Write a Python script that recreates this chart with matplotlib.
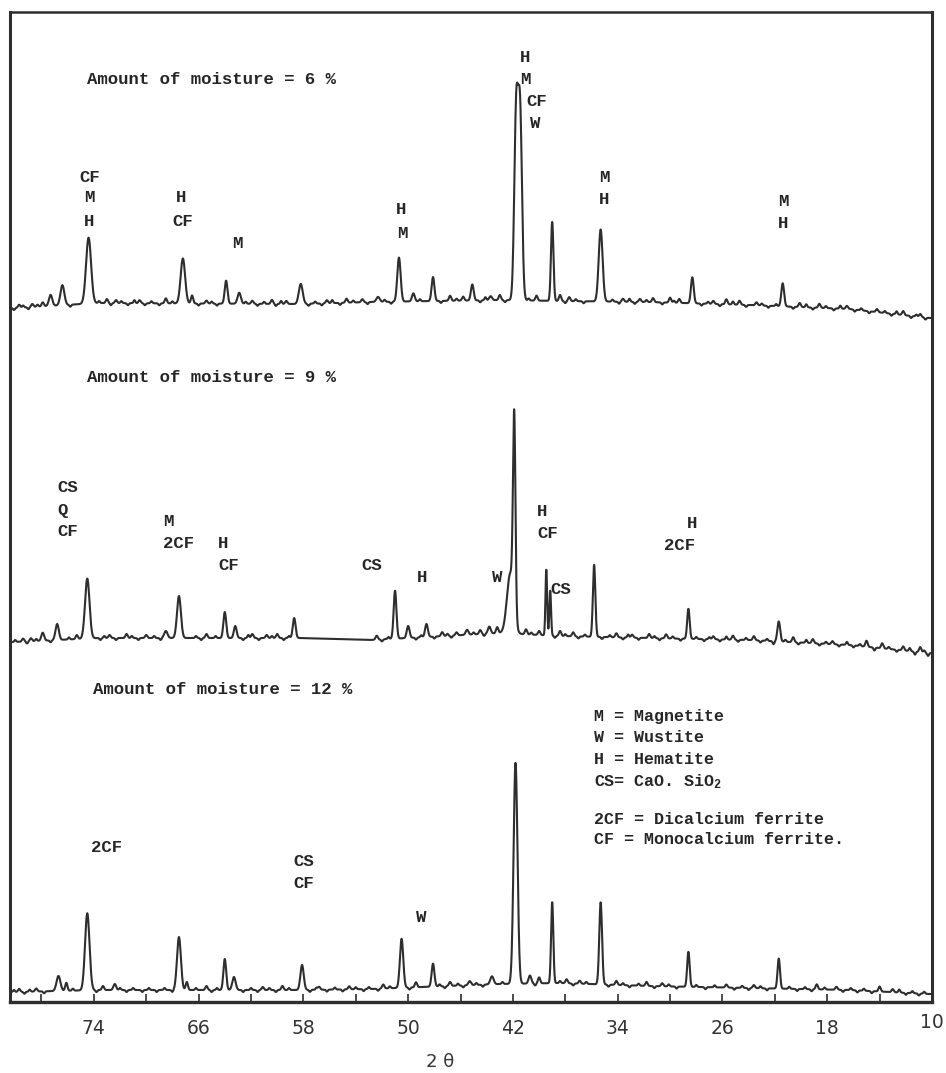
import numpy as np
import matplotlib
matplotlib.use("Agg")
import matplotlib.pyplot as plt
from matplotlib.transforms import ScaledTranslation

# ---------------------------------------------------------------------------
# Scan range (2-theta, degrees) and axis ticks
# ---------------------------------------------------------------------------
theta_max, theta_min = 80.4, 10.0
tick_positions = [78, 74, 70, 66, 62, 58, 54, 50, 46, 42, 38, 34, 30, 26, 22, 18, 14, 10]
tick_labels = ["", "74", "", "66", "", "58", "", "50", "", "42", "", "34", "", "26", "", "18", "", "10"]

# ---------------------------------------------------------------------------
# Moisture = 6 %
# ---------------------------------------------------------------------------
m6_bg_theta = [80.06, 73.6, 58.3, 52.9, 43.0, 38.4, 31.6, 23.9, 16.3, 10.2]
m6_bg_counts = [14, 19, 18, 20, 22, 21, 20, 17, 13, 4]
m6_peak_theta = [77.3, 76.4, 74.4, 67.2, 63.9, 62.9, 58.2, 52.3, 50.7, 49.6, 48.1, 45.1,
                 43.7, 41.75, 41.45, 39.0, 35.3, 28.3, 21.4]
m6_peak_counts = [11, 20, 66, 45, 23, 11, 20, 5, 44, 8, 24, 16, 4, 187, 183, 79, 72, 26, 23]
m6_peak_fwhm = [0.3, 0.35, 0.45, 0.4, 0.25, 0.3, 0.35, 0.3, 0.3, 0.25, 0.25, 0.25,
                0.25, 0.34, 0.34, 0.22, 0.35, 0.25, 0.25]
m6_minor_theta = [79.7, 78.7, 77.9, 73.0, 72.3, 70.5, 68.5, 66.5, 65.4, 61.9, 60.4, 59.3,
                  56.2, 54.7, 53.5, 46.8, 45.8, 43.0, 40.2, 38.4, 37.7, 33.6, 32.3, 31.3,
                  30.0, 29.3, 26.7, 25.7, 24.7, 23.4, 20.1, 18.6, 16.5, 14.2, 12.2, 10.9]
m6_minor_counts = [3, 3, 4, 4, 3, 3, 5, 8, 3, 3, 4, 3, 3, 4, 3, 5, 4, 5, 5, 6, 4, 3, 3, 4,
                   5, 4, 3, 5, 4, 3, 4, 4, 3, 3, 4, 3]
m6_ripple_theta = [80.1, 79.4, 79.0, 78.3, 75.8, 73.6, 72.7, 71.9, 71.4, 70.9, 70.1, 69.6,
                   69.0, 68.0, 66.0, 65.0, 64.6, 62.4, 61.5, 61.0, 60.1, 59.7, 57.6, 57.1,
                   56.6, 55.8, 55.2, 54.2, 53.1, 51.8, 51.3, 49.1, 47.5, 46.3, 44.5, 44.1,
                   42.6, 40.8, 38.0, 37.2, 36.6, 34.4, 33.9, 33.1, 32.7, 31.8, 30.6, 29.7,
                   27.6, 27.1, 26.2, 25.2, 24.2, 23.0, 22.5, 21.9, 20.6, 19.6, 19.1, 18.1,
                   17.5, 17.0, 15.9, 15.4, 14.8, 13.6, 13.1, 12.7, 11.6, 11.2, 10.5]
m6_ripple_counts = [-2, 2, -2, 2, -2, 2, -2, 2, -2, 3, -2, 2, -2, 2, -2, 2, -2, 2, -2, 2,
                    -2, 3, -2, 2, -2, 3, -2, 2, -2, 2, -2, 2, -2, 2, -2, 3, -2, 2, -2, 2,
                    -2, 2, -2, 3, -2, 2, -2, 2, -2, 2, -2, 3, -2, 2, -2, 2, -2, 3, -2, 2,
                    -2, 3, -2, 2, -2, 2, -2, 3, -2, 2, -2]

# ---------------------------------------------------------------------------
# Moisture = 9 %
# ---------------------------------------------------------------------------
m9_bg_theta = [80.06, 73.6, 58.3, 52.9, 43.0, 38.4, 31.6, 23.9, 16.3, 10.2]
m9_bg_counts = [20, 24, 24, 22, 29, 26, 24, 22, 17, 9]
m9_peak_theta = [77.9, 76.8, 74.5, 68.5, 67.5, 64.0, 63.2, 58.7, 51.0, 50.0, 48.6, 45.5,
                 43.8, 42.2, 41.9, 39.45, 39.15, 35.8, 28.6, 21.7]
m9_peak_counts = [8, 16, 60, 7, 42, 26, 12, 20, 48, 12, 13, 5, 7, 60, 194, 66, 45, 72, 30, 20]
m9_peak_fwhm = [0.25, 0.3, 0.4, 0.3, 0.35, 0.25, 0.25, 0.25, 0.25, 0.25, 0.25, 0.25,
                0.25, 0.6, 0.22, 0.15, 0.15, 0.22, 0.22, 0.25]
m9_minor_theta = [79.4, 78.8, 75.3, 72.8, 71.5, 70.0, 65.4, 61.9, 60.8, 60.0, 52.4, 47.4,
                  46.3, 44.5, 43.2, 41.0, 40.0, 38.4, 37.4, 34.1, 32.9, 31.6, 30.3, 26.7,
                  25.2, 23.6, 20.6, 19.1, 17.6, 15.0, 13.8, 12.2, 10.9]
m9_minor_counts = [3, 3, 4, 3, 4, 3, 4, 4, 3, 4, 4, 4, 3, 4, 6, 5, 4, 5, 4, 4, 3, 4, 4, 3,
                   4, 4, 5, 4, 3, 6, 5, 4, 5]
m9_ripple_theta = [80.0, 79.1, 78.4, 77.3, 75.9, 73.5, 73.2, 72.3, 71.1, 70.6, 69.4, 68.9,
                   66.2, 65.8, 64.7, 62.6, 62.2, 61.4, 60.4, 59.5, 59.1, 52.0, 51.5, 49.4,
                   49.0, 48.0, 47.0, 46.7, 45.0, 44.2, 40.6, 38.8, 38.0, 37.0, 36.5, 35.2,
                   34.6, 33.6, 33.2, 32.4, 31.2, 30.8, 29.8, 29.2, 28.0, 27.4, 27.0, 26.2,
                   25.7, 24.8, 24.2, 23.1, 22.6, 22.1, 21.2, 20.2, 19.6, 18.6, 18.1, 17.1,
                   16.5, 16.0, 15.5, 14.4, 13.3, 12.7, 11.7, 11.3, 10.6, 10.3]
m9_ripple_counts = [2, -2, 2, -2, 2, -2, 2, -2, 2, -2, 2, -2, 2, -2, 2, -2, 3, -2, 2, -2,
                    2, -2, 2, -2, 2, -2, 2, -2, 2, -2, 2, -2, 2, -2, 2, -2, 2, -2, 3, -2,
                    2, -2, 2, -2, 2, -2, 2, -2, 3, -2, 2, -2, 2, -3, 2, -2, 3, -2, 2, -2,
                    3, -2, 2, -3, 2, -2, 3, -3, 2, -3]

# ---------------------------------------------------------------------------
# Moisture = 12 %
# ---------------------------------------------------------------------------
m12_bg_theta = [80.06, 73.6, 58.3, 52.9, 43.0, 38.4, 31.6, 23.9, 16.3, 10.2]
m12_bg_counts = [10, 12, 12, 13, 18, 19, 16, 14, 12, 8]
m12_peak_theta = [76.7, 74.5, 72.4, 67.5, 64.0, 63.3, 58.1, 50.5, 48.1, 45.3, 43.6, 41.8,
                  40.7, 39.0, 35.3, 28.6, 21.7]
m12_peak_counts = [15, 77, 6, 53, 31, 13, 25, 49, 23, 4, 8, 221, 8, 81, 82, 35, 30]
m12_peak_fwhm = [0.35, 0.4, 0.25, 0.35, 0.25, 0.3, 0.3, 0.3, 0.25, 0.25, 0.3, 0.35,
                 0.25, 0.2, 0.25, 0.22, 0.22]
m12_minor_theta = [79.7, 78.4, 76.1, 73.3, 66.9, 65.4, 61.1, 59.6, 56.8, 54.5, 51.9, 49.4,
                   46.8, 40.0, 37.9, 36.9, 34.1, 31.8, 30.6, 25.7, 23.6, 18.8, 17.3, 14.0, 13.0]
m12_minor_counts = [3, 3, 8, 4, 8, 4, 3, 4, 3, 3, 4, 5, 4, 6, 4, 3, 4, 4, 3, 3, 3, 5, 3, 5, 3]
m12_ripple_theta = [80.1, 79.3, 78.9, 77.8, 75.6, 73.8, 72.0, 71.5, 71.0, 70.3, 69.8, 69.2,
                    68.6, 68.0, 66.2, 65.0, 64.6, 62.6, 62.0, 61.5, 60.6, 60.1, 59.1, 57.5,
                    57.0, 56.2, 55.6, 55.0, 54.0, 53.4, 53.0, 52.3, 51.4, 49.9, 47.6, 47.2,
                    46.2, 45.8, 44.8, 44.3, 42.8, 40.3, 38.4, 37.4, 36.4, 34.7, 33.6, 33.1,
                    32.4, 31.2, 30.1, 29.5, 28.0, 27.3, 26.6, 25.1, 24.5, 24.0, 23.1, 22.6,
                    20.9, 20.3, 19.7, 19.2, 18.2, 16.8, 16.2, 15.7, 15.2, 14.6, 12.5, 12.0,
                    11.5, 11.0, 10.6]
m12_ripple_counts = [2, -2, 2, -2, 2, -2, 2, -2, 2, -2, 2, -2, 2, -2, 2, -2, 2, -2, 2, -2,
                     2, -2, 2, -2, 2, -2, 2, -2, 2, -2, 2, -2, 2, -2, 2, -2, 2, -2, 2, -2,
                     2, -2, 2, -2, 2, -2, 2, -2, 2, -2, 2, -2, 2, -2, 2, -2, 2, -2, 2, -2,
                     2, -2, 2, -2, 2, -2, 2, -2, 2, -2, 3, -2, 2, -2, 2]

# Vertical stacking of the three scans
offsets = {"6": 680, "9": 340, "12": 0}

# ---------------------------------------------------------------------------
# Phase identification labels: (text, 2-theta, height on the plot, alignment)
# ---------------------------------------------------------------------------
labels_6 = [("CF", 74.29, 825, "center"), ("M", 74.37, 804, "center"), ("H", 74.37, 781, "center"),
            ("H", 67.34, 804, "center"), ("CF", 67.19, 781, "center"),
            ("M", 63.07, 759, "center"),
            ("H", 50.55, 792, "center"), ("M", 50.47, 769, "center"),
            ("H", 41.08, 945, "center"), ("M", 41.08, 923, "center"),
            ("CF", 40.16, 900, "center"), ("W", 40.31, 879, "center"),
            ("M", 35.05, 824, "center"), ("H", 35.05, 802, "center"),
            ("M", 21.38, 800, "center"), ("H", 21.38, 779, "center")]
labels_9 = [("CS", 76.81, 515, "left"), ("Q", 76.81, 492, "left"), ("CF", 76.81, 470, "left"),
            ("M", 68.72, 480, "left"), ("2CF", 68.72, 458, "left"),
            ("H", 64.52, 458, "left"), ("CF", 64.52, 436, "left"),
            ("CS", 52.76, 436, "center"), ("H", 48.94, 424, "center"), ("W", 43.22, 425, "center"),
            ("H", 40.16, 490, "left"), ("CF", 40.16, 469, "left"),
            ("CS", 38.33, 412, "center"),
            ("H", 28.33, 479, "center"), ("2CF", 29.24, 457, "center")]
labels_12 = [("2CF", 72.99, 154, "center"), ("CS", 57.95, 141, "center"),
             ("CF", 57.95, 119, "center"), ("W", 49.02, 85, "center")]

titles = [("Amount of moisture = 6 %", 74.52, 922),
          ("Amount of moisture = 9 %", 74.52, 625),
          ("Amount of moisture = 12 %", 74.06, 312)]

key_lines = ["M = Magnetite", "W = Wustite", "H = Hematite", "CS= CaO. SiO$_2$",
             "2CF = Dicalcium ferrite", "CF = Monocalcium ferrite."]
key_heights = [285, 264, 242, 220, 183, 163]
key_theta = 35.81

# ---------------------------------------------------------------------------
INK = "#2e2e2e"
TYPE = dict(family=["Liberation Mono", "DejaVu Sans Mono"], weight="bold", color="#262626")

plt.rcParams["mathtext.default"] = "regular"

grid = np.linspace(theta_max, theta_min, 4200)


def gauss(x, pos, amp, fwhm):
    sigma = fwhm / 2.3548
    return amp * np.exp(-0.5 * ((x - pos) / sigma) ** 2)


def scan(bg_t, bg_c, pk_t, pk_c, pk_w, mn_t, mn_c, rp_t, rp_c):
    order = np.argsort(bg_t)
    y = np.interp(grid, np.asarray(bg_t)[order], np.asarray(bg_c)[order])
    for t, c, w in zip(pk_t, pk_c, pk_w):
        y = y + gauss(grid, t, c, w)
    for t, c in zip(mn_t, mn_c):
        y = y + gauss(grid, t, c, 0.2)
    for t, c in zip(rp_t, rp_c):
        y = y + gauss(grid, t, c, 0.16)
    return y


fig = plt.figure(figsize=(9.46, 10.73), dpi=100)
ax = fig.add_axes([10 / 946, (1073 - 1002) / 1073, 922 / 946, 990 / 1073])

series = [
    ("6", m6_bg_theta, m6_bg_counts, m6_peak_theta, m6_peak_counts, m6_peak_fwhm,
     m6_minor_theta, m6_minor_counts, m6_ripple_theta, m6_ripple_counts),
    ("9", m9_bg_theta, m9_bg_counts, m9_peak_theta, m9_peak_counts, m9_peak_fwhm,
     m9_minor_theta, m9_minor_counts, m9_ripple_theta, m9_ripple_counts),
    ("12", m12_bg_theta, m12_bg_counts, m12_peak_theta, m12_peak_counts, m12_peak_fwhm,
     m12_minor_theta, m12_minor_counts, m12_ripple_theta, m12_ripple_counts),
]
for key, *cols in series:
    ax.plot(grid, offsets[key] + scan(*cols), color=INK, lw=1.5, solid_joinstyle="round")

for lab_set in (labels_6, labels_9, labels_12):
    for txt, t, h, ha in lab_set:
        ax.text(t, h, txt, ha=ha, va="center", fontsize=12.5, **TYPE)

for txt, t, h in titles:
    ax.text(t, h, txt, ha="left", va="center", fontsize=12.5, **TYPE)

for txt, h in zip(key_lines, key_heights):
    ax.text(key_theta, h, txt, ha="left", va="center", fontsize=12, **TYPE)

ax.set_xlim(theta_max, theta_min)
ax.set_ylim(0, 990)
ax.set_yticks([])
ax.set_xticks(tick_positions)
ax.set_xticklabels(tick_labels, fontsize=13.5, color="#333333",
                   family=["Liberation Sans Narrow", "DejaVu Sans"])
ax.tick_params(axis="x", direction="in", length=6, width=1.2, color=INK, pad=12)
last = ax.get_xticklabels()[-1]
last.set_transform(last.get_transform() + ScaledTranslation(0, 6 / 100, fig.dpi_scale_trans))

ax.set_xlabel("2 θ", fontsize=13, color="#333333", family=["DejaVu Sans"], va="center")
ax.xaxis.set_label_coords((440 - 10) / 922, (1002 - 1062) / 990)

for side, lw in (("left", 2.2), ("right", 2.2), ("top", 1.8), ("bottom", 2.4)):
    ax.spines[side].set_linewidth(lw)
    ax.spines[side].set_color(INK)

fig.savefig("out.png", dpi=100, facecolor="white")
